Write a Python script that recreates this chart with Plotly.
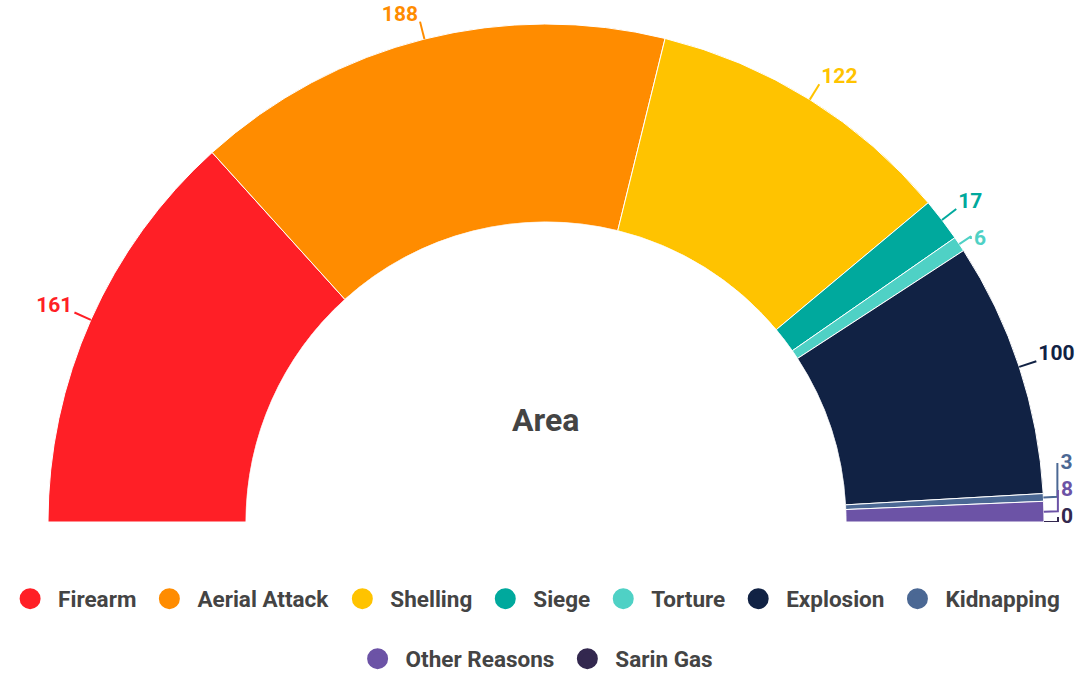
import numpy as np
import plotly.graph_objects as go

# ---------------- data ----------------
categories = ["Firearm", "Aerial Attack", "Shelling", "Siege", "Torture",
              "Explosion", "Kidnapping", "Other Reasons", "Sarin Gas"]
values = [161, 188, 122, 17, 6, 100, 3, 8, 0]
colors = ["#FF1F26", "#FF8C00", "#FFC300", "#00A99D", "#4FD1C5",
          "#112244", "#4B6894", "#6C53A6", "#33284F"]
center_label = "Area"
row2 = ["Other Reasons", "Sarin Gas"]

# ---------------- geometry (pixels of the layout) ----------------
W, H = 1078, 675
CX, CY = 546.0, 522.0
R_IN, R_BAR, R_MAX = 300.0, 498.0, 522.0
unit = R_BAR - R_IN                 # px per radial data unit
r_range = (R_MAX - R_IN) / unit     # radial axis max
hole = R_IN / R_MAX

FONT = "Roboto"
WEIGHT = "bold"
LBL_SIZE = 21


def to_px(rp, th):
    a = np.radians(th)
    return CX - rp * np.cos(a), CY - rp * np.sin(a)


def to_polar(x, y):
    dx, dy = x - CX, CY - y
    th = float(np.degrees(np.arctan2(dy, -dx)))
    if th < -90:
        th += 360
    return (float(np.hypot(dx, dy)) - R_IN) / unit, th


total = float(sum(values))
widths = np.array(values) / total * 180.0
starts = np.concatenate([[0.0], np.cumsum(widths)[:-1]])
mids = starts + widths / 2.0

# leader geometry and label centres (pixels)
n = len(values)
small = widths < 3.0
p0 = [to_px(R_BAR, m) for m in mids]
p1 = [to_px(R_BAR + (14 if s else 18), m) for m, s in zip(mids, small)]
lab_y = np.array([(p1[i][1] - 8.5) if not small[i] else (p0[i][1] - 7)
                  for i in range(n)])
# push right-side labels upward (bottom first) so they do not collide
right = [i for i in range(n) if mids[i] > 90]
prev = None
for i in sorted(right, key=lambda k: -mids[k]):
    if prev is not None:
        lab_y[i] = min(lab_y[i], lab_y[prev] - 27)
    prev = i

fig = go.Figure()

fig.add_trace(go.Barpolar(
    r=[1.0] * n, theta=mids, width=widths,
    marker=dict(color=colors, line=dict(color="white", width=1)),
    showlegend=False, hoverinfo="skip", text=categories,
))

for i, (v, c) in enumerate(zip(values, colors)):
    is_right = mids[i] > 90
    sgn = 1 if is_right else -1
    side = "right" if is_right else "left"
    if small[i]:
        pts = [p0[i], p1[i], (p1[i][0], lab_y[i] + 2)]
        anchor = (p1[i][0] + 3, lab_y[i] + 0.25 * LBL_SIZE * 0.45)
        pos = "middle " + side
    else:
        pts = [p0[i], p1[i]]
        anchor = (p1[i][0] + 2 * sgn, lab_y[i] + 0.61 * LBL_SIZE)
        pos = "top " + side
    rr, tt = zip(*[to_polar(x, y) for x, y in pts])
    fig.add_trace(go.Scatterpolar(
        r=list(rr), theta=list(tt), mode="lines", cliponaxis=False,
        line=dict(color=c, width=2), showlegend=False, hoverinfo="skip",
    ))
    ar, at = to_polar(*anchor)
    fig.add_trace(go.Scatterpolar(
        r=[ar], theta=[at], mode="text", text=[str(v)],
        textposition=pos, cliponaxis=False,
        textfont=dict(family=FONT, size=LBL_SIZE, color=c, weight=WEIGHT),
        showlegend=False, hoverinfo="skip",
    ))

for name, c in zip(categories, colors):
    fig.add_trace(go.Scatterpolar(
        r=[None], theta=[None], mode="markers", name=name,
        marker=dict(color=c, size=16, line=dict(color=c, width=5)),
        legend="legend2" if name in row2 else "legend",
    ))

leg_common = dict(
    orientation="h", xanchor="center", x=0.495, yanchor="middle",
    font=dict(family=FONT, size=22.5, color="#444444", weight=WEIGHT),
    itemwidth=46, bgcolor="rgba(0,0,0,0)", borderwidth=0,
)

fig.update_layout(
    width=W, height=H,
    margin=dict(l=0, r=0, t=0, b=0, autoexpand=False),
    paper_bgcolor="white",
    polar=dict(
        domain=dict(x=[(CX - R_MAX) / W, (CX + R_MAX) / W],
                    y=[1 - CY / H, 1.0]),
        sector=[0, 180], hole=hole, bgcolor="white",
        radialaxis=dict(visible=False, range=[0, r_range]),
        angularaxis=dict(visible=False, direction="clockwise", rotation=180,
                         thetaunit="degrees"),
    ),
    legend=dict(y=1 - 599 / H, **leg_common),
    legend2=dict(y=1 - 659 / H, **leg_common),
    annotations=[dict(
        text=center_label, x=CX / W, y=1 - 420 / H, xref="paper",
        yref="paper", showarrow=False,
        font=dict(family=FONT, size=32, color="#444444", weight=WEIGHT),
    )],
    showlegend=True,
)

fig.write_html(
    "out.html",
    config={"displayModeBar": False},
    post_script="document.body.style.margin='0';"
                "document.body.style.overflow='hidden';",
)
